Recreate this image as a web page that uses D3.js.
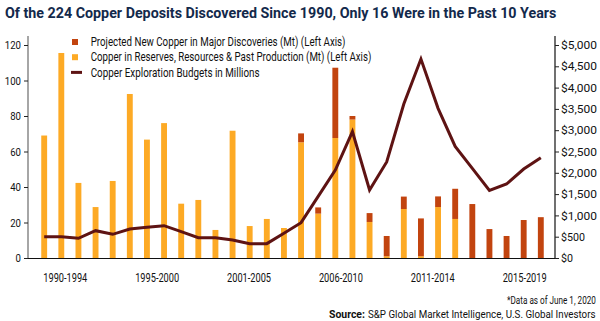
<!DOCTYPE html>
<html><head><meta charset="utf-8">
<script src="https://cdn.jsdelivr.net/npm/d3@7"></script>
<style>body{margin:0;background:#fff}svg{display:block}text{font-family:Roboto,"Noto Sans",sans-serif}</style>
</head><body><svg id="c" width="600" height="321"></svg>
<script>
const years = d3.range(1990, 2020);
const reserves = [69,115.5,42.3,28.7,43.4,92.4,66.7,76,30.6,32.7,15.8,71.7,18,22,16.9,65.2,25,67.6,78,20.3,1,27.6,1,28.7,22,0,0,0,0,0];
const projected = [0,0,0,0,0,0,0,0,0,0,0,0,0,0,0,5,3.5,39.6,2,5,11.4,7,21.3,6,17,30.4,16.3,12.4,21.4,23];
const budgets = [500,500,462,641,556,681,720,759,618,477,477,423,337,337,579,829,1448,2066,2966,1596,2254,3615,4671,3513,2621,2105,1588,1737,2089,2355];
const leftTicks = [0,20,40,60,80,100,120];
const rightTicks = [0,500,1000,1500,2000,2500,3000,3500,4000,4500,5000];
const periodLabels = ["1990-1994","1995-2000","2001-2005","2006-2010","2011-2014","2015-2019"];
const legendLabels = ["Projected New Copper in Major Discoveries (Mt) (Left Axis)","Copper in Reserves, Resources & Past Production (Mt) (Left Axis)","Copper Exploration Budgets in Millions"];

const C_RES="#fdaa25", C_PROJ="#c2440f", C_LINE="#5e1313", NAVY="#13294b";
const svg = d3.select("#c");
const x = d3.scaleBand().domain(years).range([30,555]).padding(0.657);
const y = d3.scaleLinear().domain([0,120]).range([258,45]);
const y2 = d3.scaleLinear().domain([0,5000]).range([258,45]);

// condensed text helper: scales horizontally to a target width
function ctext(parent, str, tx, ty, w, size, weight, fill){
  const t = parent.append("text").attr("font-size",size).attr("font-weight",weight||400)
    .attr("fill",fill||"#111").text(str);
  const nat = t.node().getComputedTextLength();
  t.attr("transform",`translate(${tx},${ty}) scale(${w/nat},1)`);
  return t;
}

// title
ctext(svg,"Of the 224 Copper Deposits Discovered Since 1990, Only 16 Were in the Past 10 Years",5,18,552,15.5,700,NAVY);

// bars
const g = svg.append("g");
years.forEach((yr,i)=>{
  g.append("rect").attr("x",x(yr)).attr("width",x.bandwidth())
    .attr("y",y(reserves[i])).attr("height",y(0)-y(reserves[i])).attr("fill",C_RES);
  if(projected[i]>0) g.append("rect").attr("x",x(yr)).attr("width",x.bandwidth())
    .attr("y",y(reserves[i]+projected[i])).attr("height",y(reserves[i])-y(reserves[i]+projected[i])).attr("fill",C_PROJ);
});

// line
svg.append("path").datum(budgets).attr("fill","none").attr("stroke",C_LINE).attr("stroke-width",3)
  .attr("d",d3.line().x((d,i)=>x(years[i])+x.bandwidth()/2).y(d=>y2(d)));

// left axis
const la = svg.append("g").attr("transform","translate(28,0)")
  .call(d3.axisLeft(y).tickValues(leftTicks).tickSize(4).tickSizeOuter(0));
la.select(".domain").attr("stroke","#888").attr("stroke-width",1.5).attr("d","M0,"+(y(120)-9)+"V"+y(0));
la.selectAll(".tick line").attr("stroke","#222");
la.selectAll(".tick text").attr("font-size",11.5).attr("fill","#111").attr("x",-7)
  .attr("textLength",function(){return this.textContent.length*5.4}).attr("lengthAdjust","spacingAndGlyphs");

// right axis
const ra = svg.append("g").attr("transform","translate(555,0)")
  .call(d3.axisRight(y2).tickValues(rightTicks).tickSize(4).tickSizeOuter(0).tickFormat(d=>"$"+d3.format(",")(d)));
ra.select(".domain").attr("stroke","#111").attr("stroke-width",1.2).attr("d","M0,"+(y2(5000)-9)+"V"+y2(0));
ra.selectAll(".tick line").attr("stroke","#222");
ra.selectAll(".tick text").attr("font-size",11.5).attr("fill","#111").attr("x",6)
  .attr("textLength",function(){return this.textContent.length*6}).attr("lengthAdjust","spacingAndGlyphs");

// x axis line
svg.append("line").attr("x1",28).attr("x2",555).attr("y1",y(0)+0.5).attr("y2",y(0)+0.5).attr("stroke","#111").attr("stroke-width",1.2);

// period labels
const px = d3.scalePoint().domain(periodLabels).range([x(1991)+x.bandwidth()/2+4, x(2018)+x.bandwidth()/2+1]);
periodLabels.forEach(d=>ctext(svg,d,px(d)-22,282,44,12,400,"#111"));

// legend
const legW=[255,281,169];
legendLabels.forEach((t,i)=>{
  const ly=42+i*15.2;
  if(i<2) svg.append("rect").attr("x",72).attr("y",ly-3).attr("width",6).attr("height",6).attr("fill",i===0?C_PROJ:C_RES);
  else svg.append("line").attr("x1",71).attr("x2",82).attr("y1",ly).attr("y2",ly).attr("stroke",C_LINE).attr("stroke-width",3);
  ctext(svg,t,90.7,ly+4.2,legW[i],12,400,"#111");
});

// footnotes
ctext(svg,"*Data as of June 1, 2020",507,304,89,11.5,400,"#111");
ctext(svg,"Source:",329,317.5,36,11.5,700,"#111");
ctext(svg,"S&P Global Market Intelligence, U.S. Global Investors",368,317.5,228,11.5,400,"#111");
</script></body></html>
